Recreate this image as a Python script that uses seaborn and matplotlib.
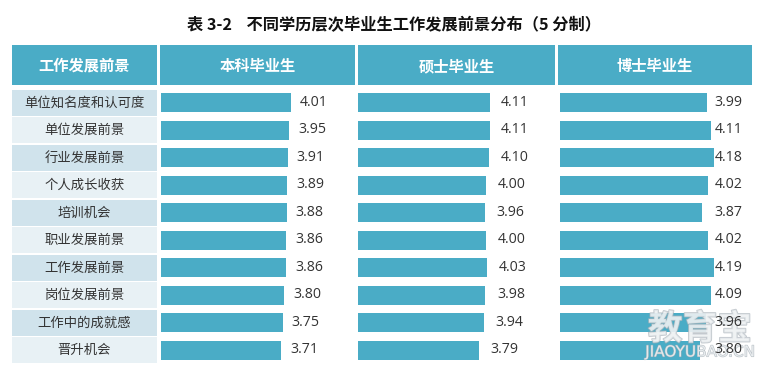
import matplotlib
matplotlib.use("Agg")
import matplotlib.pyplot as plt
from matplotlib.patches import Rectangle
import matplotlib.patheffects as pe
import seaborn as sns
import pandas as pd

sns.set_theme(style="white")
plt.rcParams['font.family'] = ['Noto Sans CJK SC', 'DejaVu Sans']

title = "表 3-2    不同学历层次毕业生工作发展前景分布（5 分制）"
header_first = "工作发展前景"
degrees = ["本科毕业生", "硕士毕业生", "博士毕业生"]
categories = ["单位知名度和认可度", "单位发展前景", "行业发展前景", "个人成长收获", "培训机会",
              "职业发展前景", "工作发展前景", "岗位发展前景", "工作中的成就感", "晋升机会"]
bachelor = [4.01, 3.95, 3.91, 3.89, 3.88, 3.86, 3.86, 3.80, 3.75, 3.71]
master = [4.11, 4.11, 4.10, 4.00, 3.96, 4.00, 4.03, 3.98, 3.94, 3.79]
doctor = [3.99, 4.11, 4.18, 4.02, 3.87, 4.02, 4.19, 4.09, 3.96, 3.80]
watermark = "教育宝"
watermark_url = "JIAOYUBAO.CN"

values = {degrees[0]: bachelor, degrees[1]: master, degrees[2]: doctor}
df = pd.DataFrame([
    {"degree": d, "item": c, "score": v}
    for d in degrees for c, v in zip(categories, values[d])
])

W, H = 776, 382
fig = plt.figure(figsize=(W / 100, H / 100), dpi=100)
fig.patch.set_facecolor("white")

def fx(px):
    return px / W

def fy(py):
    return 1 - py / H

teal = "#4aacc6"
dark_cell = "#d0e3ec"
light_cell = "#e8f1f5"
txt = "#333333"

# title
fig.text(fx(187), fy(25.5), title, ha="left", va="center", fontsize=11.7,
         fontweight="bold", color="#111111")

# header cells
head_top, head_bot = 45, 85
cols_px = [(12, 157), (160, 355), (358, 555), (558, 752)]
head_labels = [header_first] + degrees
for (x0, x1), lab in zip(cols_px, head_labels):
    fig.patches.append(Rectangle((fx(x0), fy(head_bot)), fx(x1) - fx(x0),
                                 fy(head_top) - fy(head_bot), transform=fig.transFigure,
                                 facecolor=teal, edgecolor="none", zorder=0))
    fig.text(fx((x0 + x1) / 2), fy((head_top + head_bot) / 2 + 1), lab, ha="center",
             va="center", fontsize=11, fontweight="bold", color="white")

rows_top, rows_bot = 89, 364
n = len(categories)

# label column
axl = fig.add_axes([fx(12), fy(rows_bot), fx(157) - fx(12), fy(rows_top) - fy(rows_bot)])
axl.set_xlim(0, 1)
axl.set_ylim(n - 0.5, -0.5)
axl.axis("off")
for i, c in enumerate(categories):
    axl.add_patch(Rectangle((0, i - 0.5 + 0.035), 1, 0.93,
                            facecolor=dark_cell if i % 2 == 0 else light_cell,
                            edgecolor="none"))
    axl.text(0.5, i, c, ha="center", va="center", fontsize=9.6, color=txt)

# bar columns
bar_cols = [(161, 355, 32.4), (358, 555, 32.0), (560, 752, 36.8)]
label_mode = [("rel", 0.28), ("rel", 0.36), ("fix", 4.2)]
last_ax = None
for (x0, x1, scale), deg, (mode, off) in zip(bar_cols, degrees, label_mode):
    ax = fig.add_axes([fx(x0), fy(rows_bot), fx(x1) - fx(x0), fy(rows_top) - fy(rows_bot)])
    sub = df[df["degree"] == deg]
    sns.barplot(data=sub, x="score", y="item", order=categories, color=teal,
                saturation=1, width=0.68, ax=ax, orient="h")
    for p in ax.patches:
        p.set_edgecolor("none")
    ax.set_xlim(0, (x1 - x0) / scale)
    ax.set_ylim(n - 0.5, -0.5)
    ax.axis("off")
    for i, v in enumerate(values[deg]):
        xpos = v + off if mode == "rel" else off
        ax.text(xpos, i - 0.02, f"{v:.2f}", ha="left", va="center", fontsize=10.2,
                color=txt, family=["Open Sans", "DejaVu Sans"], zorder=5)
    last_ax = ax

# watermark (between bars and value labels)
wm_fx = [pe.withStroke(linewidth=1.2, foreground="#aab3ba")]
last_ax.text(fx(700), fy(329), watermark, ha="center", va="center", fontsize=25,
             fontweight="bold", color="#eef1f3", alpha=0.7, path_effects=wm_fx,
             transform=fig.transFigure, clip_on=False, zorder=2)
last_ax.text(fx(700), fy(352), watermark_url, ha="center", va="center", fontsize=11,
             color="#eef1f3", alpha=0.8, family=["DejaVu Sans"],
             path_effects=[pe.withStroke(linewidth=0.8, foreground="#aab3ba")],
             transform=fig.transFigure, clip_on=False, zorder=2)

fig.savefig("out.png", dpi=100, facecolor="white")
